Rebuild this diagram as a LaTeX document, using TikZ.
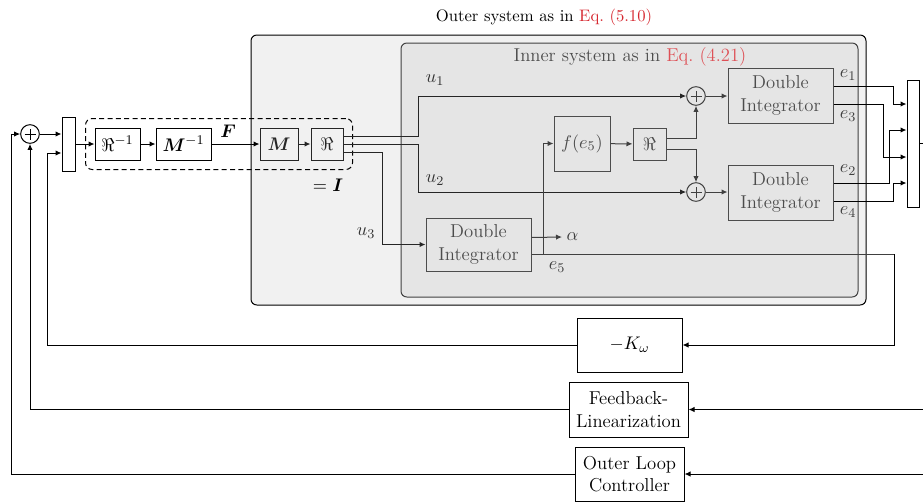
\documentclass[tikz,border=0pt]{standalone}
\usepackage{bm}
\usetikzlibrary{arrows.meta,calc,fit}
\definecolor{eqred}{RGB}{214,40,48}
\definecolor{eqredlt}{RGB}{222,80,86}
\definecolor{outerfill}{gray}{0.945}
\definecolor{innerfill}{gray}{0.9}
\tikzset{
  blk/.style={draw, rectangle, inner sep=0pt, align=center, font=\fontsize{11.2}{13.6}\selectfont},
  inblk/.style={blk, draw=black!70, text=black!70},
  outblk/.style={blk, draw=black!85, text=black!85},
  lbl/.style={inner sep=0pt, font=\fontsize{11.2}{13.6}\selectfont},
  sumnode/.style={draw, circle, minimum size=11.2pt, inner sep=0pt,
    path picture={\draw[line width=0.55pt]
      ([xshift=-3.3pt]path picture bounding box.center) -- ([xshift=3.3pt]path picture bounding box.center)
      ([yshift=-3.3pt]path picture bounding box.center) -- ([yshift=3.3pt]path picture bounding box.center);}},
  inline/.style={draw=black!75},
}
\begin{document}
\begin{tikzpicture}[x=0.6pt,y=-0.6pt, line width=0.6pt,
  >={Latex[length=3.6pt,width=3.2pt]}]
\useasboundingbox (0,0) rectangle (923,502);

% system boxes
\draw[rounded corners=3.5pt, fill=outerfill] (251,35) rectangle (866,305);
\draw[rounded corners=3.5pt, fill=innerfill, draw=black!75] (401,43) rectangle (858,297);
\node[font=\fontsize{10}{12}\selectfont] (tout) at (544,17) {Outer system as in \textcolor{eqred}{Eq.~(5.10)}};
\node[lbl, text=black!70] (tin) at (630,57) {Inner system as in \textcolor{eqredlt}{Eq.~(4.21)}};

% left part
\node[sumnode] (s0) at (30,134) {};
\node[blk, minimum width=7.8pt, minimum height=32.4pt] (mux1) at (68.5,144) {};
\node[blk, minimum width=27pt, minimum height=19.2pt] (Rinv) at (117.5,144) {$\Re^{-1}$};
\node[blk, minimum width=33pt, minimum height=19.2pt] (Minv) at (183.5,144) {$\bm{M}^{-1}$};
\node[outblk, minimum width=22.8pt, minimum height=19.2pt] (M) at (279,144) {$\bm{M}$};
\node[outblk, minimum width=19.2pt, minimum height=19.2pt] (Re) at (327,144) {$\Re$};
\node[draw, dashed, dash pattern=on 3pt off 2pt, rounded corners=4pt, fit=(Rinv)(Re), inner sep=5.4pt] (dash) {};
\node[lbl] (eqI) at (328,185) {$=\bm{I}$};
\node[lbl] (Flbl) at (228,131) {$\bm{F}$};

\draw[->] (s0.east) -- (s0.east -| mux1.west);
\draw[->] (mux1.east |- Rinv.west) -- (Rinv.west);
\draw[->] (Rinv) -- (Minv);
\draw[->] (Minv) -- (M);
\draw[->, draw=black!85] (M) -- (Re);

% inner part
\coordinate (xu12) at (418,0);
\coordinate (xu3) at (382,0);
\coordinate (xf) at (543,0);
\coordinate (xK) at (894,0);
\node[sumnode, draw=black!75] (s1) at (696,96) {};
\node[sumnode, draw=black!75] (s2) at (696,192) {};
\node[inblk, minimum width=33.6pt, minimum height=33pt] (f) at (582,143.5) {$f(e_5)$};
\node[inblk, minimum width=19.8pt, minimum height=19.2pt] (Re2) at (649.5,144) {$\Re$};
\node[inblk, minimum width=63pt, minimum height=33pt] (DI1) at (780.5,95.5) {Double\\Integrator};
\node[inblk, minimum width=63pt, minimum height=33pt] (DI2) at (780.5,192.5) {Double\\Integrator};
\node[inblk, minimum width=63pt, minimum height=31.8pt] (DI3) at (478.5,244.5) {Double\\Integrator};

\node[lbl, text=black!80] (u1) at (435,80) {$u_1$};
\node[lbl, text=black!80] (u2) at (435,180) {$u_2$};
\node[lbl, text=black!80] (u3) at (366,233) {$u_3$};
\node[lbl, text=black!75, anchor=west] (alpha) at (566,237) {$\alpha$};
\node[lbl, text=black!75] (e5) at (557,267) {$e_5$};
\node[lbl, text=black!75] (e1) at (848,75) {$e_1$};
\node[lbl, text=black!75] (e3) at (848,116) {$e_3$};
\node[lbl, text=black!75] (e2) at (848,170) {$e_2$};
\node[lbl, text=black!75] (e4) at (848,212) {$e_4$};

\draw[->, draw=black!85] ($(Re.east)+(0,-8)$) coordinate (r1) -- (r1 -| xu12) |- (s1.west);
\draw[->, draw=black!85] (Re.east) -- (Re.east -| xu12) |- (s2.west);
\draw[->, draw=black!85] ($(Re.east)+(0,8)$) coordinate (r3) -- (r3 -| xu3) |- (DI3.west);
\draw[->, inline] ($(DI3.east)+(0,-7)$) -- ($(alpha.west)+(-4,0)$);
\draw[inline] ($(DI3.east)+(0,9.5)$) coordinate (d5) -- (d5 -| xK);
\draw[->, inline] (d5 -| xf) |- (f.west);
\draw[->, inline] (f) -- (Re2);
\draw[->, inline] ($(Re2.east)+(0,-6)$) -| (s1.south);
\draw[->, inline] ($(Re2.east)+(0,5)$) -| (s2.north);
\draw[->, inline] (s1) -- (s1 -| DI1.west);
\draw[->, inline] (s2) -- (s2 -| DI2.west);

% right mux
\node[blk, minimum width=7.2pt, minimum height=76.2pt] (mux2) at (913,143.5) {};
\coordinate (xa) at (893,0);
\coordinate (xb) at (883,0);
\coordinate (xc) at (889,0);
\coordinate (outR) at (923,143.5);
\draw[->] ($(DI1.east)+(0,-9)$) coordinate (o1) -- (o1 -| xa) |- ($(mux2.west)+(0,-39.5)$);
\draw[->] ($(DI1.east)+(0,9)$) coordinate (o3) -- (o3 -| xb) |- ($(mux2.west)+(0,13.5)$);
\draw[->] ($(DI2.east)+(0,-9)$) coordinate (o2) -- (o2 -| xc) |- ($(mux2.west)+(0,-13.5)$);
\draw[->] ($(DI2.east)+(0,9)$) coordinate (o4) -- (o4 -| xa) |- ($(mux2.west)+(0,39.5)$);
\draw (mux2.east) -- (outR);

% feedback blocks
\node[blk, minimum width=63pt, minimum height=32.4pt] (Kw) at (629.5,345) {$-K_\omega$};
\node[blk, minimum width=71.4pt, minimum height=33pt] (FL) at (628.5,409.5) {Feedback-\\Linearization};
\node[blk, minimum width=65.4pt, minimum height=32.4pt] (OL) at (629.5,474) {Outer Loop\\Controller};
\coordinate (inFL) at (923,409.5);
\coordinate (inOL) at (923,474);
\coordinate (xk1) at (47,0);
\coordinate (xo) at (11,0);

\draw[->] (d5 -| xK) |- (Kw.east);
\draw[->] (Kw.west) -- (Kw.west -| xk1) |- ($(mux1.west)+(0,9)$);
\draw[->] (inFL) -- (FL.east);
\draw[->] (FL.west) -| (s0.south);
\draw[->] (inOL) -- (OL.east);
\draw[->] (OL.west) -- (OL.west -| xo) |- (s0.west);
\end{tikzpicture}
\end{document}
